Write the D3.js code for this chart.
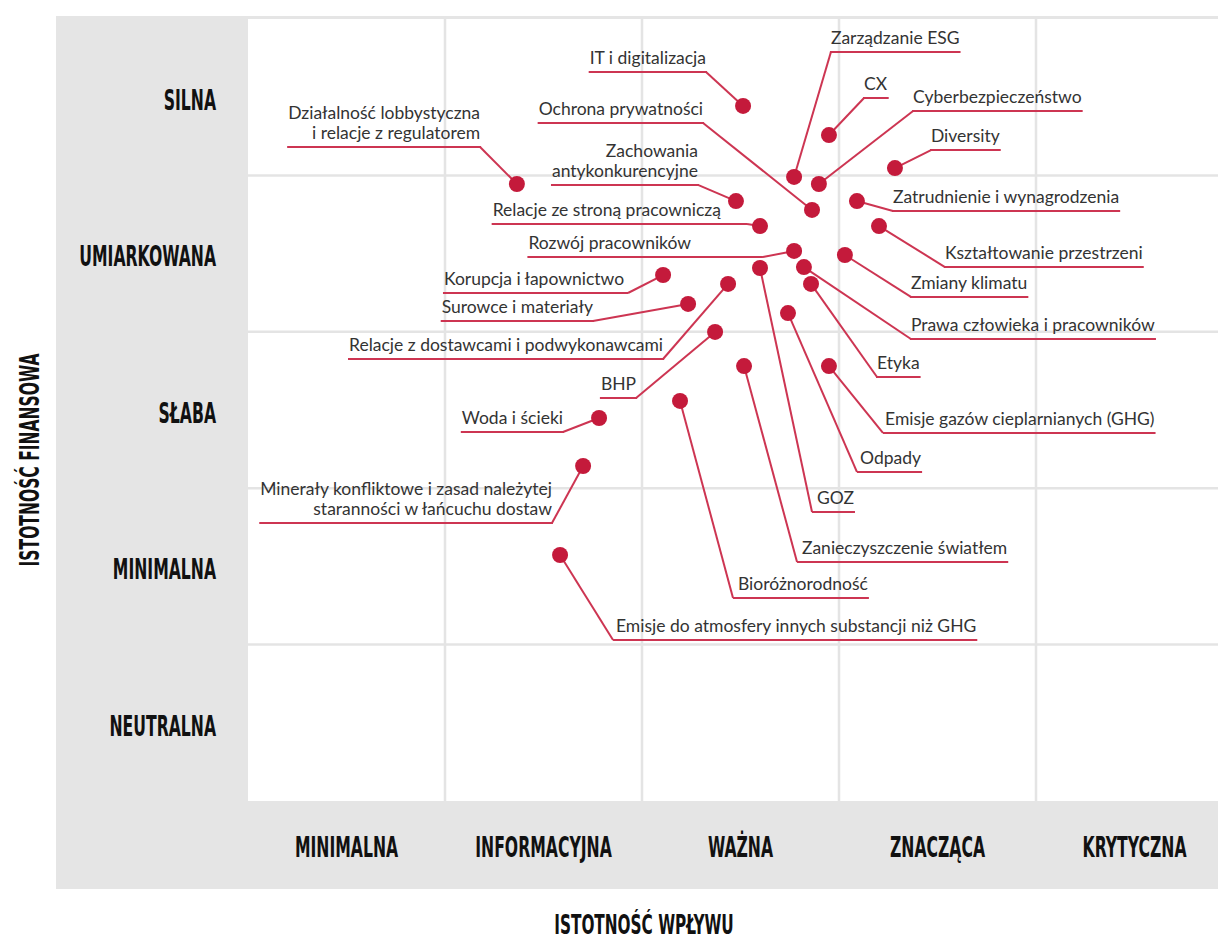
<!DOCTYPE html>
<html>
<head>
<meta charset="utf-8">
<script src="https://cdn.jsdelivr.net/npm/d3@7"></script>
<style>
  body { margin: 0; background: #fff; }
  .cat { font-family: "Liberation Sans Narrow", "DejaVu Sans Condensed", sans-serif; font-weight: bold; fill: #111; }
  .lbl { font-family: Lato, "Open Sans", sans-serif; font-size: 17.5px; fill: #333; }
</style>
</head>
<body>
<div id="chart"></div>
<script>
// poziomy istotnosci
const impactLevels = ["MINIMALNA", "INFORMACYJNA", "WAŻNA", "ZNACZĄCA", "KRYTYCZNA"];
const financialLevels = ["SILNA", "UMIARKOWANA", "SŁABA", "MINIMALNA", "NEUTRALNA"];

// tematy (\n = zlamanie linii w etykiecie)
const topics = [
  "IT i digitalizacja", "CX", "Diversity", "Działalność lobbystyczna\ni relacje z regulatorem",
  "Zarządzanie ESG", "Cyberbezpieczeństwo", "Zachowania\nantykonkurencyjne", "Zatrudnienie i wynagrodzenia",
  "Ochrona prywatności", "Relacje ze stroną pracowniczą", "Kształtowanie przestrzeni", "Rozwój pracowników",
  "Zmiany klimatu", "Prawa człowieka i pracowników", "GOZ", "Korupcja i łapownictwo",
  "Etyka", "Relacje z dostawcami i podwykonawcami", "Surowce i materiały", "Odpady",
  "BHP", "Zanieczyszczenie światłem", "Emisje gazów cieplarnianych (GHG)", "Bioróżnorodność",
  "Woda i ścieki", "Minerały konfliktowe i zasad należytej\nstaranności w łańcuchu dostaw",
  "Emisje do atmosfery innych substancji niż GHG"
];
// istotnosc wplywu (0..5, skala kolumn)
const impact = [
  2.513, 2.949, 3.284, 1.365, 2.772, 2.898, 2.477, 3.091,
  2.863, 2.599, 3.203, 2.772, 3.030, 2.822, 2.599, 2.107,
  2.858, 2.437, 2.234, 2.741, 2.371, 2.518, 2.949, 2.193,
  1.782, 1.701, 1.584
];
// istotnosc finansowa (0..5, skala wierszy)
const financial = [
  4.444, 4.258, 4.047, 3.945, 3.990, 3.945, 3.836, 3.836,
  3.779, 3.676, 3.676, 3.517, 3.491, 3.414, 3.408, 3.363,
  3.306, 3.306, 3.178, 3.120, 2.999, 2.781, 2.781, 2.558,
  2.449, 2.142, 1.573
];

// rozmieszczenie etykiet (w jednostkach osi)
const labelAnchor = [
  "end", "start", "start", "end", "start", "start", "end", "start",
  "end", "end", "start", "end", "start", "start", "start", "end",
  "start", "end", "end", "start", "end", "start", "start", "start",
  "end", "end", "start"
];
const labelX = [
  2.325, 3.127, 3.467, 1.178, 2.959, 3.376, 2.284, 3.274,
  2.310, 2.401, 3.538, 2.249, 3.365, 3.365, 2.888, 1.909,
  3.193, 2.107, 1.751, 3.107, 1.970, 2.812, 3.234, 2.487,
  1.599, 1.543, 1.868
];
const labelY = [
  4.661, 4.495, 4.162, 4.182, 4.789, 4.412, 3.939, 3.772,
  4.335, 3.689, 3.414, 3.478, 3.223, 2.954, 1.848, 3.248,
  2.711, 2.826, 3.069, 2.104, 2.577, 1.528, 2.353, 1.298,
  2.359, 1.777, 1.029
];
const elbowX = [
  null, null, null, null, null, null, null, null,
  null, 2.533, null, 2.614, null, null, 2.863, 1.929,
  null, null, null, 3.091, null, 2.787, 3.223, 2.462,
  null, null, 1.853
];

const W = 1218, H = 942;
const svg = d3.select("#chart").append("svg")
  .attr("width", W).attr("height", H);

const plot = { left: 248, right: 1233, top: 19, bottom: 801 };

const x = d3.scaleLinear().domain([0, 5]).range([plot.left, plot.right]);
const y = d3.scaleLinear().domain([0, 5]).range([plot.bottom, plot.top]);
const xBand = d3.scaleBand().domain(impactLevels).range([plot.left, plot.right]);
const yBand = d3.scaleBand().domain(financialLevels).range([plot.top, plot.bottom]);

// tlo
svg.append("rect").attr("x", 56).attr("y", 16).attr("width", W - 56).attr("height", 889 - 16)
  .attr("fill", "#e5e5e5");
svg.append("rect").attr("x", plot.left).attr("y", plot.top)
  .attr("width", plot.right - plot.left).attr("height", plot.bottom - plot.top)
  .attr("fill", "#fff");

// siatka
const grid = svg.append("g").attr("stroke", "#e4e4e4").attr("stroke-width", 2.5);
impactLevels.slice(1).forEach(d => {
  grid.append("line").attr("x1", xBand(d)).attr("x2", xBand(d))
    .attr("y1", plot.top).attr("y2", plot.bottom);
});
financialLevels.slice(1).forEach(d => {
  grid.append("line").attr("y1", yBand(d)).attr("y2", yBand(d))
    .attr("x1", plot.left).attr("x2", plot.right);
});

// etykiety kategorii
const sx = 0.6;
financialLevels.forEach(d => {
  const cy = yBand(d) + yBand.bandwidth() / 2 + 3;
  svg.append("text").attr("class", "cat")
    .attr("transform", `translate(216,${cy}) scale(${sx},1)`)
    .attr("text-anchor", "end").attr("dominant-baseline", "central")
    .style("font-size", "29px").text(d);
});
impactLevels.forEach(d => {
  const cx = xBand(d) + xBand.bandwidth() / 2;
  svg.append("text").attr("class", "cat")
    .attr("transform", `translate(${cx},847) scale(${sx},1)`)
    .attr("text-anchor", "middle").attr("dominant-baseline", "central")
    .style("font-size", "29px").text(d);
});

// tytuly osi
svg.append("text").attr("class", "cat")
  .attr("transform", `translate(644,934) scale(0.63,1)`)
  .attr("text-anchor", "middle")
  .style("font-size", "27px").text("ISTOTNOŚĆ WPŁYWU");
svg.append("text").attr("class", "cat")
  .attr("transform", `translate(39,460) rotate(-90) scale(0.64,1)`)
  .attr("text-anchor", "middle")
  .style("font-size", "27px").text("ISTOTNOŚĆ FINANSOWA");

// etykiety + linie
const red = "#c41a3b";
const lineRed = "#cd3552";
const labels = svg.append("g");
const leaders = svg.append("g");

topics.forEach((t, i) => {
  const tx = x(labelX[i]);
  const uy = y(labelY[i]);
  const lines = t.split("\n");
  const g = labels.append("g");
  lines.forEach((ln, k) => {
    g.append("text").attr("class", "lbl")
      .attr("x", tx)
      .attr("y", uy - 8 - (lines.length - 1 - k) * 20)
      .attr("text-anchor", labelAnchor[i])
      .text(ln);
  });
  const bb = g.node().getBBox();
  const ex = elbowX[i] != null ? x(elbowX[i]) : tx;
  let x1, x2;
  if (labelAnchor[i] === "end") {
    x1 = bb.x - 1;
    x2 = Math.max(ex, tx + 1);
  } else {
    x1 = Math.min(ex, tx - 1);
    x2 = bb.x + bb.width + 1;
  }
  leaders.append("line")
    .attr("x1", x1).attr("x2", x2).attr("y1", uy).attr("y2", uy)
    .attr("stroke", lineRed).attr("stroke-width", 2);
  leaders.append("line")
    .attr("x1", ex).attr("y1", uy)
    .attr("x2", x(impact[i])).attr("y2", y(financial[i]))
    .attr("stroke", lineRed).attr("stroke-width", 2);
});

// punkty
svg.append("g").selectAll("circle")
  .data(topics)
  .enter()
  .append("circle")
  .attr("cx", (d, i) => x(impact[i]))
  .attr("cy", (d, i) => y(financial[i]))
  .attr("r", 8)
  .attr("fill", red);
</script>
</body>
</html>
